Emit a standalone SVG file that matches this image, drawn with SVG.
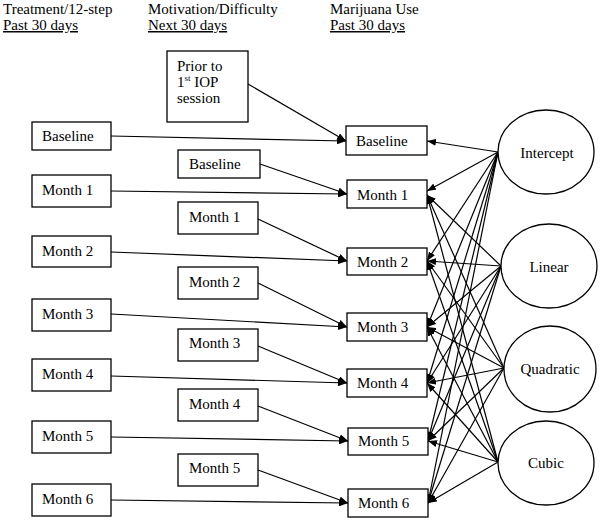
<svg xmlns="http://www.w3.org/2000/svg" width="600" height="521" viewBox="0 0 600 521">
<defs>
<marker id="ah" markerWidth="9" markerHeight="7" refX="9" refY="3.5" orient="auto" markerUnits="userSpaceOnUse"><path d="M0,0 L9,3.5 L0,7 z" fill="#000"/></marker>
<style>
text{font-family:"Liberation Serif","Times New Roman",serif;font-size:15px;fill:#000}
.u{text-decoration:underline}
rect{fill:#fff;stroke:#000;stroke-width:1.3}
ellipse{fill:#fff;stroke:#000;stroke-width:1.3}
.c line{stroke:#000;stroke-width:1.2;marker-end:url(#ah)}
.m{text-anchor:middle}
</style>
</defs>
<rect x="0" y="0" width="600" height="521" style="fill:#fff;stroke:none"/>
<g id="headers">
<text x="3" y="14">Treatment/12-step</text>
<text x="3" y="30" class="u">Past 30 days</text>
<text x="148" y="14">Motivation/Difficulty</text>
<text x="148" y="30" class="u">Next 30 days</text>
<text x="330" y="14">Marijuana Use</text>
<text x="330" y="30" class="u">Past 30 days</text>
</g>
<g class="c" id="connectors">
<line x1="248" y1="84" x2="346" y2="141"/>
<line x1="111" y1="136" x2="346" y2="141"/>
<line x1="260" y1="164" x2="347" y2="194"/>
<line x1="111" y1="191" x2="347" y2="194"/>
<line x1="258" y1="219" x2="347" y2="261"/>
<line x1="111" y1="252" x2="347" y2="261"/>
<line x1="258" y1="283" x2="347" y2="327"/>
<line x1="111" y1="314" x2="347" y2="327"/>
<line x1="258" y1="346" x2="347" y2="383"/>
<line x1="111" y1="376" x2="347" y2="383"/>
<line x1="258" y1="406" x2="348" y2="441"/>
<line x1="111" y1="437" x2="348" y2="441"/>
<line x1="258" y1="470" x2="348" y2="503"/>
<line x1="111" y1="500" x2="348" y2="503"/>
<line x1="498" y1="152" x2="427" y2="141"/>
<line x1="498" y1="152" x2="427" y2="191"/>
<line x1="498" y1="152" x2="427" y2="261"/>
<line x1="498" y1="152" x2="427" y2="327"/>
<line x1="498" y1="152" x2="427" y2="383"/>
<line x1="498" y1="152" x2="428" y2="441"/>
<line x1="498" y1="152" x2="428" y2="503"/>
<line x1="501" y1="266" x2="427" y2="195"/>
<line x1="501" y1="266" x2="427" y2="261"/>
<line x1="501" y1="266" x2="427" y2="327"/>
<line x1="501" y1="266" x2="427" y2="383"/>
<line x1="501" y1="266" x2="428" y2="441"/>
<line x1="501" y1="266" x2="428" y2="503"/>
<line x1="504" y1="368" x2="427" y2="195"/>
<line x1="504" y1="368" x2="427" y2="261"/>
<line x1="504" y1="368" x2="427" y2="327"/>
<line x1="504" y1="368" x2="427" y2="383"/>
<line x1="504" y1="368" x2="428" y2="441"/>
<line x1="504" y1="368" x2="428" y2="503"/>
<line x1="498" y1="462" x2="427" y2="195"/>
<line x1="498" y1="462" x2="427" y2="261"/>
<line x1="498" y1="462" x2="427" y2="327"/>
<line x1="498" y1="462" x2="427" y2="383"/>
<line x1="498" y1="462" x2="428" y2="441"/>
<line x1="498" y1="462" x2="428" y2="503"/>
</g>
<g id="prior"><rect x="167" y="51" width="81" height="71"/><text x="177" y="71">Prior to</text><text x="177" y="87">1<tspan font-size="9" dy="-6">st</tspan><tspan dy="6"> IOP</tspan></text><text x="177" y="103">session</text></g>
<g id="tx-baseline"><rect x="32" y="122" width="79" height="28"/><text x="42" y="141">Baseline</text></g>
<g id="tx-m1"><rect x="32" y="175" width="79" height="32"/><text x="42" y="195">Month 1</text></g>
<g id="tx-m2"><rect x="32" y="236" width="79" height="31"/><text x="42" y="256">Month 2</text></g>
<g id="tx-m3"><rect x="32" y="299" width="79" height="32"/><text x="42" y="319">Month 3</text></g>
<g id="tx-m4"><rect x="32" y="359" width="79" height="32"/><text x="42" y="379">Month 4</text></g>
<g id="tx-m5"><rect x="32" y="421" width="79" height="32"/><text x="42" y="441">Month 5</text></g>
<g id="tx-m6"><rect x="32" y="484" width="79" height="32"/><text x="42" y="504">Month 6</text></g>
<g id="mo-baseline"><rect x="178" y="150" width="82" height="28"/><text x="189" y="169">Baseline</text></g>
<g id="mo-m1"><rect x="178" y="202" width="80" height="32"/><text x="189" y="222">Month 1</text></g>
<g id="mo-m2"><rect x="178" y="267" width="80" height="32"/><text x="189" y="287">Month 2</text></g>
<g id="mo-m3"><rect x="178" y="329" width="80" height="32"/><text x="189" y="348">Month 3</text></g>
<g id="mo-m4"><rect x="178" y="389" width="80" height="32"/><text x="189" y="409">Month 4</text></g>
<g id="mo-m5"><rect x="178" y="454" width="80" height="32"/><text x="189" y="473">Month 5</text></g>
<g id="mu-baseline"><rect x="346" y="126" width="81" height="29"/><text x="356" y="146">Baseline</text></g>
<g id="mu-m1"><rect x="347" y="180" width="80" height="28"/><text x="357" y="200">Month 1</text></g>
<g id="mu-m2"><rect x="347" y="248" width="80" height="27"/><text x="357" y="267">Month 2</text></g>
<g id="mu-m3"><rect x="347" y="313" width="80" height="28"/><text x="357" y="332">Month 3</text></g>
<g id="mu-m4"><rect x="347" y="369" width="80" height="28"/><text x="357" y="388">Month 4</text></g>
<g id="mu-m5"><rect x="348" y="428" width="80" height="27"/><text x="358" y="446">Month 5</text></g>
<g id="mu-m6"><rect x="348" y="489" width="80" height="28"/><text x="358" y="508">Month 6</text></g>
<g id="intercept"><ellipse cx="546" cy="152" rx="48" ry="42"/><text x="547" y="158" class="m">Intercept</text></g>
<g id="linear"><ellipse cx="549" cy="266" rx="48" ry="42"/><text x="549" y="272" class="m">Linear</text></g>
<g id="quadratic"><ellipse cx="550" cy="369" rx="46" ry="43"/><text x="550" y="374" class="m">Quadratic</text></g>
<g id="cubic"><ellipse cx="546" cy="463" rx="48" ry="42"/><text x="546" y="468" class="m">Cubic</text></g>
</svg>
